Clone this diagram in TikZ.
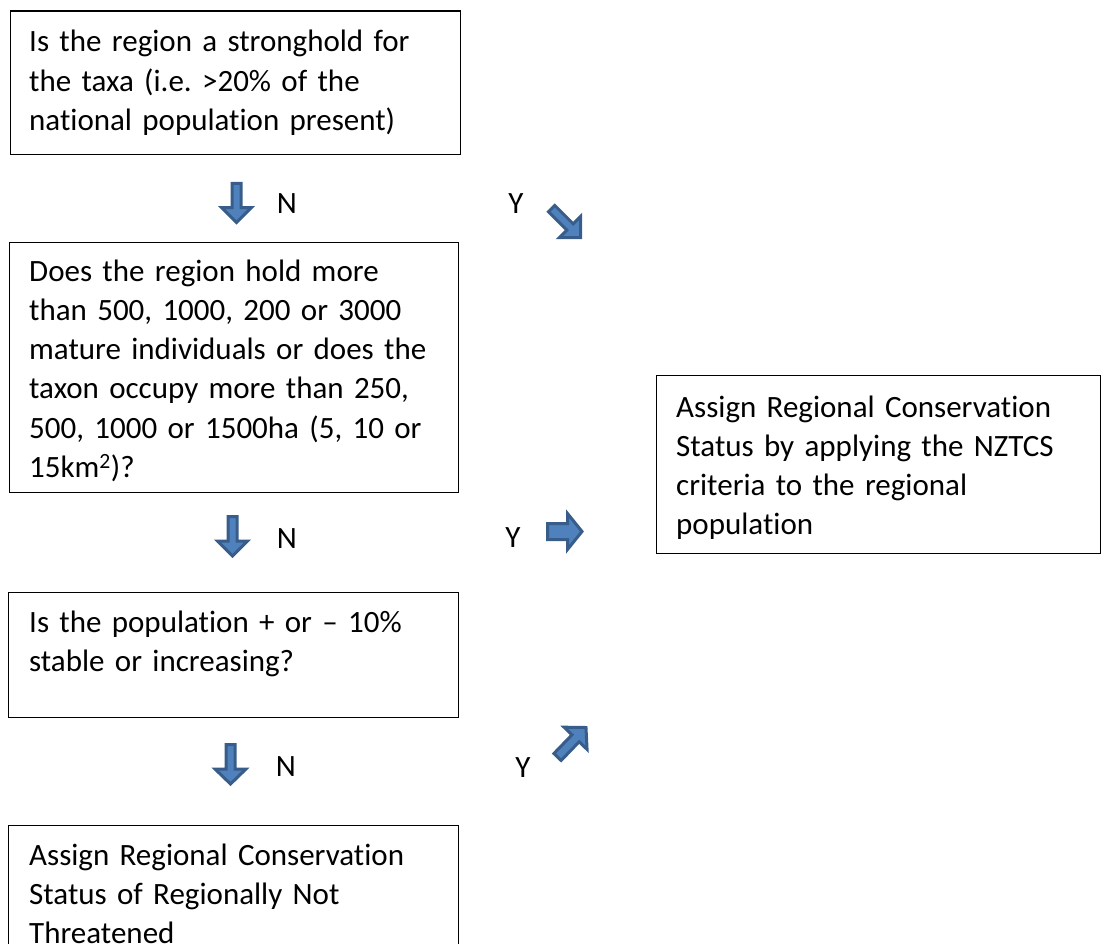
\documentclass[tikz,border=0pt]{standalone}
\usepackage{fontspec}
\setmainfont{Carlito}[Ligatures=NoCommon]
\frenchspacing
\definecolor{arrfill}{HTML}{4F81BD}
\definecolor{arrline}{HTML}{385D8A}
\begin{document}
\begin{tikzpicture}[x=1pt,y=-1pt,
  box/.style={draw=black, line width=1.3pt, anchor=north west, inner sep=0pt},
  txt/.style={anchor=north west, inner sep=0pt, align=left, text width=560pt, font=\fontsize{31}{39.2}\selectfont\frenchspacing},
  lbl/.style={inner sep=0pt, font=\fontsize{31}{39.2}\selectfont},
  arr/.style={fill=arrfill, draw=arrline, line width=3pt, line join=miter},
  pics/barrow/.style n args={4}{code={\path[arr] (0,-#2) -- ({#1-#4},-#2) -- ({#1-#4},-#3) -- (#1,0) -- ({#1-#4},#3) -- ({#1-#4},#2) -- (0,#2) -- cycle;}}
]
\useasboundingbox (0,0) rectangle (1102,944);
\clip (0,0) rectangle (1102,944);
% boxes
\node[box, minimum width=450.5pt, minimum height=143.5pt] (b1) at (9.5,10.5) {};
\node[box, minimum width=449.5pt, minimum height=250pt] (b2) at (8.5,242) {};
\node[box, minimum width=450.5pt, minimum height=125pt] (b3) at (7.5,592) {};
\node[box, minimum width=450pt, minimum height=140pt] (b4) at (8,825) {};
\node[box, minimum width=444pt, minimum height=178pt] (bR) at (656,375) {};
% texts
\node[txt] (t1) at (29,11.7) {\rule{0pt}{40pt}Is the region a stronghold for\\the taxa (i.e. >20\% of the\\national population present)};
\node[txt] (t2) at (29,241) {\rule{0pt}{40pt}Does the region hold more\\than 500, 1000, 200 or 3000\\mature individuals or does the\\taxon occupy more than 250,\\500, 1000 or 1500ha (5, 10 or\\15km\textsuperscript{2})?};
\node[txt] (t3) at (29,592) {\rule{0pt}{40pt}Is the population + or – 10\%\\stable or increasing?};
\node[txt] (t4) at (29,825) {\rule{0pt}{40pt}Assign Regional Conservation\\Status of Regionally Not\\Threatened};
\node[txt] (tR) at (676,377) {\rule{0pt}{40pt}Assign Regional Conservation\\Status by applying the NZTCS\\criteria to the regional\\population};
% labels
\node[lbl] (n1) at (287,204) {N};
\node[lbl] (n2) at (287,539) {N};
\node[lbl] (n3) at (286,767) {N};
\node[lbl] (y1) at (516,204) {Y};
\node[lbl] (y2) at (513,538) {Y};
\node[lbl] (y3) at (523,768) {Y};
% block arrows
\pic[rotate=-90] at (236.5,183.5) {barrow={39}{4.5}{15}{15}};
\pic[rotate=-90] at (232.5,516.5) {barrow={39.5}{4.5}{15}{15}};
\pic[rotate=-90] at (230.5,744.5) {barrow={39.5}{4.5}{15.5}{15}};
\pic[rotate=-45] at (551.6,208.6) {barrow={41}{4.5}{15}{15}};
\pic at (547.5,531.5) {barrow={34.5}{8}{18}{14.5}};
\pic[rotate=46] at (557.5,757) {barrow={41}{5}{16}{15}};
\end{tikzpicture}
\end{document}
